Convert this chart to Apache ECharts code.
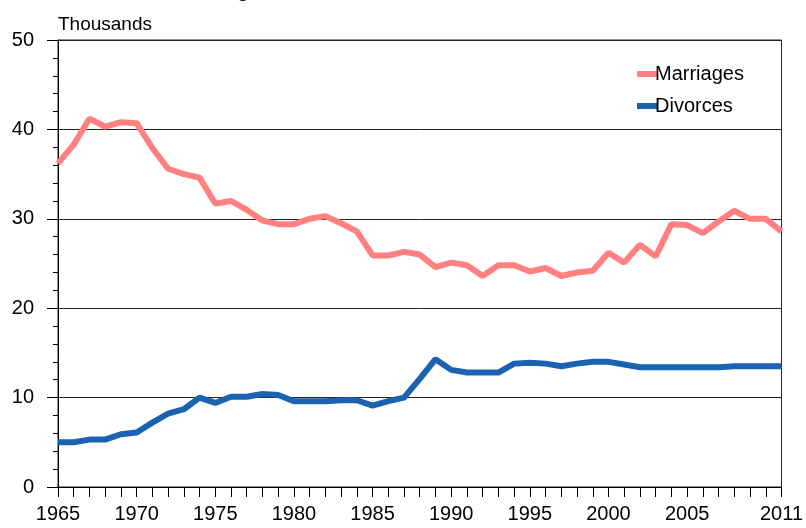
<!DOCTYPE html>
<html>
<head>
<meta charset="UTF-8">
<title>Marriages and divorces</title>
<script src="https://cdn.jsdelivr.net/npm/echarts@6/dist/echarts.min.js"></script>
<style>
html,body{margin:0;padding:0;background:#fff;}
</style>
</head>
<body>
<div id="main" style="width:806px;height:528px;"></div>
<script type="text/javascript">
// years on the x axis
var years = [];
for (var y = 1965; y <= 2011; y++) { years.push(String(y)); }

// labels shown under the x axis
var yearLabels = ['1965','1970','1975','1980','1985','1990','1995','2000','2005','2011'];

// thousands
var marriages = [
  36.2, 38.3, 41.2, 40.3, 40.8, 40.7, 37.9, 35.6, 35.0, 34.6,
  31.7, 32.0, 31.0, 29.8, 29.4, 29.4, 30.0, 30.3, 29.5, 28.6,
  25.9, 25.9, 26.3, 26.0, 24.6, 25.1, 24.8, 23.6, 24.8, 24.8,
  24.1, 24.5, 23.6, 24.0, 24.2, 26.2, 25.1, 27.1, 25.8, 29.4,
  29.3, 28.4, 29.7, 30.9, 30.0, 30.0, 28.6
];
var divorces = [
  5.0, 5.0, 5.3, 5.3, 5.9, 6.1, 7.2, 8.2, 8.7, 10.0,
  9.4, 10.1, 10.1, 10.4, 10.3, 9.6, 9.6, 9.6, 9.7, 9.7,
  9.1, 9.6, 10.0, 12.1, 14.3, 13.1, 12.8, 12.8, 12.8, 13.8,
  13.9, 13.8, 13.5, 13.8, 14.0, 14.0, 13.7, 13.4, 13.4, 13.4,
  13.4, 13.4, 13.4, 13.5, 13.5, 13.5, 13.5
];

var font = 'Arial, "Liberation Sans", sans-serif';
var myChart = echarts.init(document.getElementById('main'), null, {renderer: 'canvas'});

var option = {
    animation: false,
    backgroundColor: '#fff',
    // title sits above the picture, only its descender shows
    title: {
        text: 'Marriages and divorces 1965\u20132011',
        left: 172,
        top: -24,
        textStyle: {fontFamily: font, fontSize: 20, fontWeight: 'bold', color: '#000'}
    },
    legend: {
        orient: 'vertical',
        left: 632,
        top: 59,
        itemWidth: 21,
        itemHeight: 6,
        itemGap: 12,
        icon: 'rect',
        textStyle: {fontFamily: font, fontSize: 20, color: '#000', padding: [0, 0, 0, -8]},
        data: ['Marriages', 'Divorces']
    },
    grid: {
        left: 58,
        right: 18,
        top: 40,
        bottom: 41,
        show: true,
        borderColor: '#222',
        borderWidth: 1
    },
    xAxis: {
        type: 'category',
        boundaryGap: false,
        data: years,
        axisLine: {lineStyle: {color: '#000', width: 1}},
        axisTick: {show: true, interval: 0, length: 10, lineStyle: {color: '#000'}},
        axisLabel: {
            interval: function (index, value) { return yearLabels.indexOf(value) >= 0; },
            margin: 17,
            fontFamily: font,
            fontSize: 20,
            color: '#000'
        },
        splitLine: {show: false}
    },
    yAxis: {
        type: 'value',
        min: 0,
        max: 50,
        interval: 10,
        name: 'Thousands',
        nameLocation: 'end',
        nameGap: 6,
        nameTextStyle: {align: 'left', fontFamily: font, fontSize: 19, color: '#000'},
        axisLine: {show: true, lineStyle: {color: '#000', width: 1}},
        axisTick: {show: true, length: 11, lineStyle: {color: '#000'}},
        minorTick: {show: true, splitNumber: 5, length: 5, lineStyle: {color: '#000'}},
        axisLabel: {margin: 24, fontFamily: font, fontSize: 20, color: '#000'},
        splitLine: {show: true, lineStyle: {color: '#222', width: 1}}
    },
    series: [
        {
            name: 'Marriages',
            type: 'line',
            data: marriages,
            symbol: 'none',
            itemStyle: {color: '#ff8080'},
            lineStyle: {color: '#ff8080', width: 6}
        },
        {
            name: 'Divorces',
            type: 'line',
            data: divorces,
            symbol: 'none',
            itemStyle: {color: '#1b63b0'},
            lineStyle: {color: '#1b63b0', width: 6}
        }
    ]
};
myChart.setOption(option);
</script>
</body>
</html>
